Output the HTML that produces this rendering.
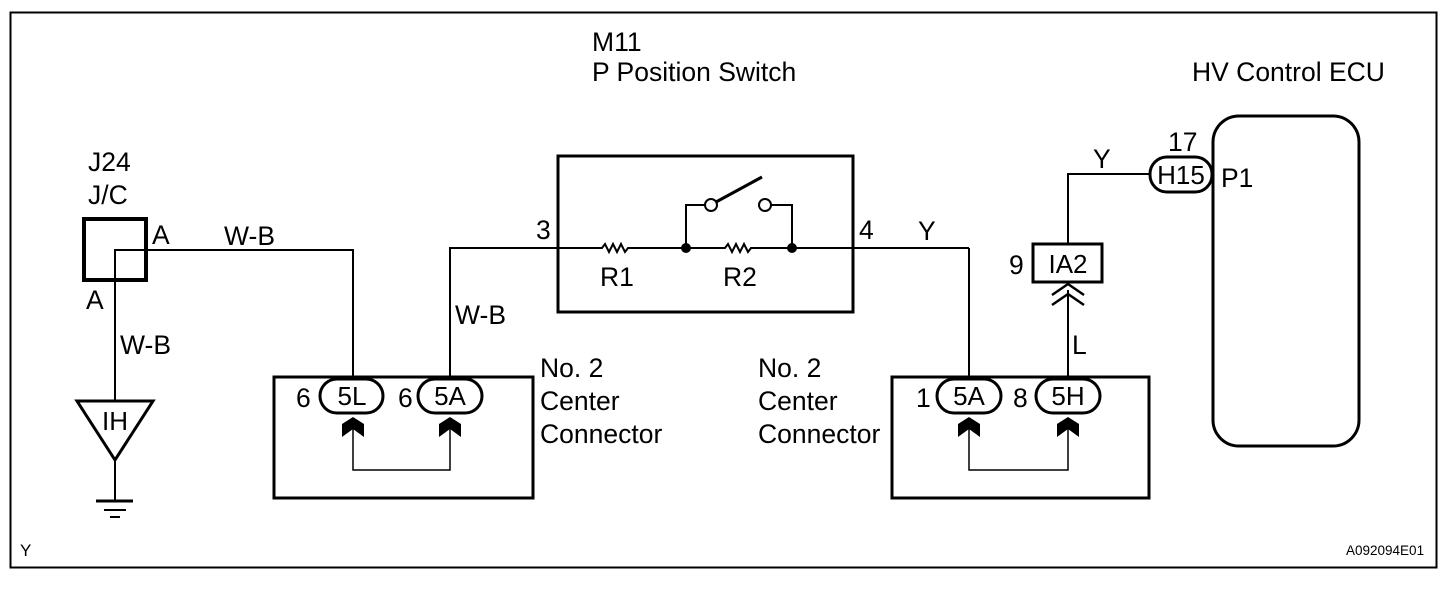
<!DOCTYPE html>
<html><head><style>
html,body{margin:0;padding:0;background:#fff;}
svg text{font-family:"Liberation Sans",Arial,sans-serif;fill:#000;}
</style></head><body>
<svg width="1456" height="596" viewBox="0 0 1456 596" xmlns="http://www.w3.org/2000/svg">
<rect x="0" y="0" width="1456" height="596" fill="#fff"/>
<rect x="10.5" y="12.5" width="1426" height="555" fill="none" stroke="#000" stroke-width="2"/>
<g font-size="26.5">
<text x="592" y="51">M11</text>
<text x="592" y="81">P Position Switch</text>
<text x="1192" y="81">HV Control ECU</text>
<text x="88" y="171">J24</text>
<text x="88" y="204">J/C</text>
<text x="152" y="244">A</text>
<text x="86" y="309">A</text>
<text x="224" y="245">W-B</text>
<text x="120" y="354">W-B</text>
<text x="455" y="324">W-B</text>
<text x="536" y="239">3</text>
<text x="859" y="239">4</text>
<text x="918" y="240">Y</text>
<text x="600" y="286">R1</text>
<text x="723" y="286">R2</text>
<text x="540" y="377">No. 2</text>
<text x="540" y="410">Center</text>
<text x="540" y="443">Connector</text>
<text x="758" y="377">No. 2</text>
<text x="758" y="410">Center</text>
<text x="758" y="443">Connector</text>
<text x="296" y="407">6</text>
<text x="398" y="407">6</text>
<text x="916" y="407">1</text>
<text x="1013" y="407">8</text>
<text x="1009" y="274">9</text>
<text x="1072" y="354">L</text>
<text x="1093" y="168">Y</text>
<text x="1168" y="151">17</text>
<text x="1221" y="187">P1</text>
<text x="20" y="556" font-size="17">Y</text>
<text x="1346" y="555" font-size="13.5">A092094E01</text>
</g>
<g fill="none" stroke="#000">
<rect x="84" y="219" width="62" height="61" stroke-width="4"/>
<polyline points="115,400 115,250 353,250 353,377" stroke-width="2"/>
<polygon points="77,401 153,401 115,460" stroke-width="3"/>
<line x1="115" y1="460" x2="115" y2="500" stroke-width="2"/>
<line x1="96" y1="501" x2="133" y2="501" stroke-width="3"/>
<line x1="104" y1="510" x2="126" y2="510" stroke-width="2"/>
<line x1="110" y1="517" x2="120" y2="517" stroke-width="2"/>
<rect x="274" y="377" width="259" height="121" stroke-width="3"/>
<polyline points="450,377 450,248 558,248" stroke-width="2"/>
<polyline points="353,420 353,470 450,470 450,420" stroke-width="1.5"/>
<rect x="558" y="156" width="295" height="156" stroke-width="3"/>
<line x1="853" y1="248" x2="969" y2="248" stroke-width="2"/>
<polyline points="540,248 602,248 605,244 609,252 613,244 617,252 621,244 625,252 628,248 725,248 728,244 732,252 736,244 740,252 744,244 748,252 751,248 853,248" stroke-width="2"/>
<polyline points="686,248 686,205 705,205" stroke-width="2"/>
<polyline points="771,205 792,205 792,248" stroke-width="2"/>
<circle cx="711" cy="205" r="6" stroke-width="2"/>
<circle cx="765" cy="205" r="6" stroke-width="2"/>
<line x1="716" y1="202" x2="762" y2="177" stroke-width="3"/>
<polyline points="969,248 969,377" stroke-width="2"/>
<rect x="892" y="377" width="257" height="121" stroke-width="3"/>
<polyline points="969,420 969,470 1068,470 1068,420" stroke-width="1.5"/>
<line x1="1068" y1="377" x2="1068" y2="290" stroke-width="2"/>
<rect x="1033" y="244" width="69" height="38" stroke-width="3"/>
<polyline points="1052,295 1068,284 1084,295" stroke-width="2.5"/>
<polyline points="1052,305 1068,294 1084,305" stroke-width="2.5"/>
<polyline points="1068,243 1068,174 1150,174" stroke-width="2"/>
<rect x="1213" y="116" width="146" height="330" rx="26" stroke-width="3"/>
</g>
<g fill="#fff" stroke="#000" stroke-width="3">
<rect x="320" y="379" width="63" height="34" rx="17"/>
<rect x="418" y="379" width="64" height="34" rx="17"/>
<rect x="937" y="379" width="64" height="34" rx="17"/>
<rect x="1036" y="379" width="64" height="34" rx="17"/>
<rect x="1150" y="157" width="62" height="35" rx="17"/>
</g>
<g font-size="26" text-anchor="middle">
<text x="352" y="405">5L</text>
<text x="450" y="405">5A</text>
<text x="969" y="405">5A</text>
<text x="1068" y="405">5H</text>
<text x="1181" y="184">H15</text>
<text x="1068" y="273">IA2</text>
<text x="115" y="430">IH</text>
</g>
<g fill="#000">
<polygon points="342,437 342,424 353,417 364,424 364,437 353,429"/>
<polygon points="439,437 439,424 450,417 461,424 461,437 450,429"/>
<polygon points="958,437 958,424 969,417 980,424 980,437 969,429"/>
<polygon points="1057,437 1057,424 1068,417 1079,424 1079,437 1068,429"/>
<circle cx="686" cy="248" r="5"/>
<circle cx="792" cy="248" r="5"/>
</g>
</svg>
</body></html>
